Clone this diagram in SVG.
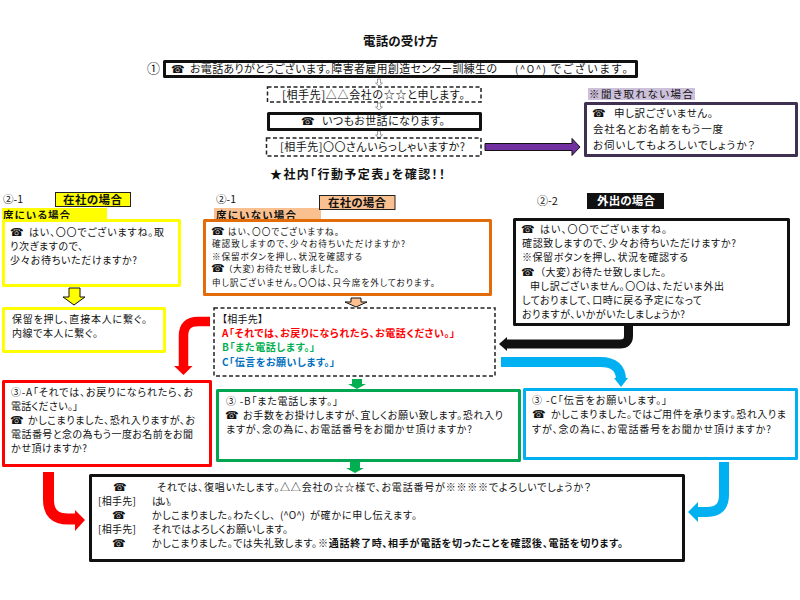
<svg xmlns="http://www.w3.org/2000/svg" xmlns:xlink="http://www.w3.org/1999/xlink" width="800" height="600" viewBox="0 0 800 600">
<style>
text{font-family:"Noto Sans CJK JP","Liberation Sans",sans-serif;font-size:10px;fill:#111;font-feature-settings:"palt"}
.b{font-weight:700}
.s{font-size:8.600px}
.n{font-size:10.500px}
.p{font-family:"DejaVu Sans","Noto Sans CJK JP",sans-serif;font-size:11px;font-weight:700}
.box{fill:#fff;stroke-width:3;stroke-linejoin:round}
.dash{fill:#fff;stroke:#222;stroke-width:1.5;stroke-dasharray:4 2.5}
.flow{fill:none}
.small{fill:#fff;stroke:#777;stroke-width:.7}
</style>
<defs>
<polygon id="mini" class="small" points="-1.500,0 1.500,0 1.500,4 3.500,4 0,7 -3.500,4 -1.500,4"/>
</defs>
<rect width="800" height="600" fill="#fff"/>

<g id="connectors">
<use xlink:href="#mini" x="379" y="79"/>
<use xlink:href="#mini" x="379" y="103"/>
<use xlink:href="#mini" x="379" y="131"/>
<polygon fill="#7030a0" stroke="#111" stroke-width="1" points="485,143.500 572,143.500 572,138.500 580,147 572,155.500 572,150.500 485,150.500"/>
<polygon fill="#ffff00" stroke="#111" stroke-width="1" points="69,288 80,288 80,297 85,297 74,305 63,297 69,297"/>
<polygon fill="#fac090" stroke="#111" stroke-width="1" points="351,298 361,298 361,302 367,302 356,307 345,302 351,302"/>
<path class="flow" stroke="#ff0000" stroke-width="9.500" d="M210 321.500H198Q183.500 321.500 183.500 336V367"/>
<polygon fill="#ff0000" points="174,366 192.500,366 183.500,375"/>
<path class="flow" stroke="#111" stroke-width="9" d="M628.500 326V336Q628.500 344 620 344H505"/>
<polygon fill="#111" points="507,337 507,351 499,344"/>
<path class="flow" stroke="#00b0f0" stroke-width="10" d="M501 362H600Q621 362 621 380"/>
<polygon fill="#00b0f0" points="614,378 628,378 621,387"/>
<polygon fill="#00b050" points="352,379 362,379 362,384 366,384 357,389 348,384 352,384"/>
<polygon fill="#00b050" points="350,462 360,462 360,468 364,468 355,473 346,468 350,468"/>
<path class="flow" stroke="#ff0000" stroke-width="11" d="M48.500 472V500Q48.500 519 68 519H76"/>
<polygon fill="#ff0000" points="75,510 85,520 75,531"/>
<path class="flow" stroke="#00b0f0" stroke-width="10" d="M724 462V495Q724 512 707 512H697"/>
<polygon fill="#00b0f0" points="698,502 688,512 698,522"/>
</g>

<g id="title"><text class="b" x="363" y="46" style="font-size:12.500px" textLength="75">電話の受け方</text></g>

<g id="step1">
<text x="147" y="73" style="font-size:13px">①</text>
<rect class="box" x="164.500" y="61.500" width="472" height="15" stroke="#111"/>
<text class="p" x="171" y="73">☎</text>
<text x="190" y="73" textLength="307" style="font-size:11px">お電話ありがとうございます。障害者雇用創造センター訓練生の</text>
<text x="515" y="73" textLength="31">(^O^)</text>
<text x="551" y="73" textLength="77" style="font-size:11px">でございます。</text>
</g>
<g id="caller-company">
<rect class="dash" x="267.500" y="87" width="213.500" height="15"/>
<text x="282" y="98.500" textLength="183" style="font-size:11px">[相手先]△△会社の☆☆と申します。</text>
</g>
<g id="greeting">
<rect class="box" x="268.500" y="113.500" width="212" height="16" stroke="#111"/>
<text class="p" x="301" y="125">☎</text>
<text x="322" y="125" textLength="123" style="font-size:11px">いつもお世話になります。</text>
</g>
<g id="caller-request">
<rect class="dash" x="266.500" y="138" width="214.500" height="18"/>
<text x="280" y="151" textLength="185" style="font-size:11px">[相手先]〇〇さんいらっしゃいますか?</text>
</g>
<g id="check"><text class="b" x="270" y="179" style="font-size:12px" textLength="175">★社内「行動予定表」を確認！！</text></g>

<g id="unclear">
<rect x="588" y="88" width="107" height="12" fill="#ccc0da"/>
<text class="n" x="589" y="98" textLength="104">※聞き取れない場合</text>
<rect class="box" x="585.500" y="103.500" width="211" height="52" stroke="#403152"/>
<text class="p" x="592" y="117">☎</text>
<text class="n" x="614" y="117" textLength="99">申し訳ございません。</text>
<text class="n" x="593" y="133" textLength="130">会社名とお名前をもう一度</text>
<text class="n" x="593" y="149" textLength="162">お伺いしてもよろしいでしょうか？</text>
</g>

<g id="at-desk">
<text class="n" x="3" y="203">②-1</text>
<rect x="55.500" y="192.500" width="75" height="14" fill="#ffff00" stroke="#222" stroke-width="1"/>
<text class="b" x="63" y="204" style="font-size:11.500px" textLength="59">在社の場合</text>
<rect x="2" y="208" width="105" height="11" fill="#ffff00"/>
<text class="b n" x="3" y="218.500" textLength="67">席にいる場合</text>
<rect class="box" x="3.500" y="220.500" width="176" height="65" stroke="#ffff00"/>
<text class="p" x="10" y="236">☎</text>
<text x="29" y="236" textLength="135">はい、〇〇でございますね。取</text>
<text x="10" y="250" textLength="73">り次ぎますので、</text>
<text x="10" y="264" textLength="127">少々お待ちいただけますか?</text>
</g>
<g id="transfer">
<rect class="box" x="3.500" y="308.500" width="161" height="43" stroke="#ffff00"/>
<text x="12" y="323" textLength="135">保留を押し、直接本人に繋ぐ。</text>
<text x="12" y="337" textLength="86">内線で本人に繋ぐ。</text>
</g>

<g id="away-desk">
<text class="n" x="216" y="203">②-1</text>
<rect x="214" y="208" width="107" height="11" fill="#fac090"/>
<rect x="319.500" y="195.500" width="75.500" height="14" fill="#fac090" stroke="#222" stroke-width="1"/>
<text class="b" x="328" y="207" style="font-size:11.500px" textLength="58">在社の場合</text>
<text class="b n" x="216" y="218.500" textLength="80">席にいない場合</text>
<rect class="box" x="204.500" y="220.500" width="286" height="74" stroke="#e36c0a"/>
<text class="p" x="211" y="234.500">☎</text>
<text class="s" x="228" y="234.500" textLength="111">はい、〇〇でございますね。</text>
<text class="s" x="212" y="247" textLength="193">確認致しますので、少々お待ちいただけますか?</text>
<text class="s" x="212" y="259.500" textLength="150">※保留ボタンを押し、状況を確認する</text>
<text class="p" x="211" y="272">☎</text>
<text class="s" x="228" y="272" textLength="111">（大変）お待たせ致しました。</text>
<text class="s" x="212" y="285.500" textLength="223">申し訳ございません。〇〇は、只今席を外しております。</text>
</g>
<g id="options">
<rect class="dash" x="214" y="308" width="281" height="68"/>
<text x="222" y="323" textLength="41">【相手先】</text>
<text class="b" x="222" y="337" textLength="233" style="fill:#ff0000">A「それでは、お戻りになられたら、お電話ください。」</text>
<text class="b" x="222" y="351" textLength="93" style="fill:#00b050">B「また電話します。」</text>
<text class="b" x="222" y="366" textLength="113" style="fill:#0070c0">C「伝言をお願いします。」</text>
</g>

<g id="out">
<text x="537" y="205" style="font-size:11px">②-2</text>
<rect x="587" y="193" width="77" height="16" fill="#111"/>
<text class="b" x="597" y="205" style="font-size:11.500px;fill:#fff" textLength="58">外出の場合</text>
<rect class="box" x="514.500" y="219.500" width="274" height="105" stroke="#111"/>
<text class="p" x="521" y="233">☎</text>
<text x="540" y="233" textLength="127">はい、〇〇でございますね。</text>
<text x="522" y="247" textLength="214">確認致しますので、少々お待ちいただけますか?</text>
<text x="522" y="261" textLength="166">※保留ボタンを押し、状況を確認する</text>
<text class="p" x="521" y="276">☎</text>
<text x="540" y="276" textLength="126">（大変）お待たせ致しました。</text>
<text x="530" y="290" textLength="194">申し訳ございません。〇〇は、ただいま外出</text>
<text x="522" y="304" textLength="180">しておりまして、口時に戻る予定になって</text>
<text x="522" y="318" textLength="163">おりますが、いかがいたしましょうか?</text>
</g>

<g id="option-a">
<rect class="box" x="3.500" y="381.500" width="207" height="84" stroke="#ff0000"/>
<text x="11" y="396" textLength="182">③-A「それでは、お戻りになられたら、お</text>
<text x="11" y="410" textLength="67">電話ください。」</text>
<text class="p" x="10" y="424">☎</text>
<text x="28" y="424" textLength="167">かしこまりました、恐れ入りますが、お</text>
<text x="11" y="438" textLength="182">電話番号と念の為もう一度お名前をお聞</text>
<text x="11" y="452" textLength="76">かせ頂けますか?</text>
</g>
<g id="option-b">
<rect class="box" x="217.500" y="390.500" width="302" height="70" stroke="#00a651"/>
<text x="226" y="405" textLength="112">③ -B「また電話します。」</text>
<text class="p" x="225" y="419">☎</text>
<text x="243" y="419" textLength="260">お手数をお掛けしますが、宜しくお願い致します。恐れ入り</text>
<text x="226" y="433" textLength="246">ますが、念の為に、お電話番号をお聞かせ頂けますか?</text>
</g>
<g id="option-c">
<rect class="box" x="524.500" y="389.500" width="272" height="69" stroke="#00b0f0"/>
<text x="532" y="404" textLength="135">③ -C「伝言をお願いします。」</text>
<text class="p" x="532" y="418">☎</text>
<text x="551" y="418" textLength="235">かしこまりました。ではご用件を承ります。恐れ入りま</text>
<text x="532" y="433" textLength="239">すが、念の為に、お電話番号をお聞かせ頂けますか?</text>
</g>

<g id="closing">
<rect class="box" x="90.500" y="475.500" width="593" height="85" stroke="#111"/>
<text class="p" x="113" y="491">☎</text>
<text x="157" y="491" textLength="434">それでは、復唱いたします。△△会社の☆☆様で、お電話番号が※※※※でよろしいでしょうか？</text>
<text x="98" y="505" textLength="38">[相手先]</text>
<text x="152" y="505" textLength="20">はい。</text>
<text class="p" x="112" y="519">☎</text>
<text x="152" y="519" textLength="123">かしこまりました。わたくし、</text>
<text x="280" y="519" textLength="25">(^O^)</text>
<text x="310" y="519" textLength="107">が確かに申し伝えます。</text>
<text x="98" y="533" textLength="38">[相手先]</text>
<text x="152" y="533" textLength="136">それではよろしくお願いします。</text>
<text class="p" x="112" y="547">☎</text>
<text x="152" y="547" textLength="165">かしこまりました。では失礼致します。</text>
<text class="b" x="318" y="547" textLength="305">※通話終了時、相手が電話を切ったことを確認後、電話を切ります。</text>
</g>
</svg>
